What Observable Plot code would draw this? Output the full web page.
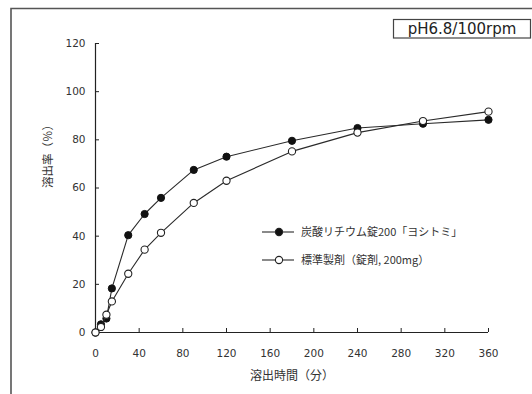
<!DOCTYPE html>
<html>
<head>
<meta charset="utf-8">
<script src="https://cdn.jsdelivr.net/npm/d3@7"></script>
<script src="https://cdn.jsdelivr.net/npm/@observablehq/plot@0.6"></script>
<style>
  html, body { margin: 0; padding: 0; background: #fff; }
</style>
</head>
<body>
<script>
// Dissolution test, pH 6.8 / 100 rpm
const times = [0, 5, 10, 15, 30, 45, 60, 90, 120, 180, 240, 300, 360];
const lithium = [0, 3.4, 5.8, 18.3, 40.4, 49.2, 55.9, 67.5, 73.0, 79.6, 84.9, 86.7, 88.3];
const standard = [0, 2.3, 7.4, 12.9, 24.4, 34.4, 41.4, 53.8, 63.0, 75.2, 83.0, 87.8, 91.7];
const seriesNames = ["炭酸リチウム錠200「ヨシトミ」", "標準製剤（錠剤, 200mg）"];
const xTicks = [0, 40, 80, 120, 160, 200, 240, 280, 320, 360];
const yTicks = [0, 20, 40, 60, 80, 100, 120];
const xLabel = "溶出時間（分）";
const yLabel = "溶出率（％）";
const condition = "pH6.8/100rpm";

const rowsA = times.map((t, i) => ({t, v: lithium[i]}));
const rowsB = times.map((t, i) => ({t, v: standard[i]}));

const cjk = "Noto Sans CJK JP";
const latin = "DejaVu Sans";
const lineColor = "#2a2a2a";

const chart = Plot.plot({
  width: 532,
  height: 394,
  marginLeft: 95,
  marginRight: 44,
  marginTop: 43,
  marginBottom: 62,
  style: {fontFamily: latin, fontSize: "10.5px", color: "#333", background: "#fff"},
  x: {domain: [0, 360]},
  y: {domain: [0, 120]},
  marks: [
    // tick labels
    Plot.axisX({ticks: xTicks, tickSize: 0, tickPadding: 17, label: null, fontFamily: latin, fontSize: 10.5}),
    Plot.axisY({ticks: yTicks, tickSize: 0, tickPadding: 10, label: null, fontFamily: latin, fontSize: 10.5}),
    // inward tick marks
    Plot.axisX({ticks: xTicks, fill: "none", tickSize: 4, dy: -4, label: null, stroke: "#222"}),
    Plot.axisY({ticks: yTicks, fill: "none", tickSize: 4, dx: 4, label: null, stroke: "#222"}),
    // axis lines
    Plot.ruleX([0], {stroke: "#222", strokeWidth: 1.2}),
    Plot.ruleY([0], {stroke: "#222", strokeWidth: 1.2}),
    // axis titles
    Plot.text([xLabel], {frameAnchor: "bottom", dy: 47, fontSize: 12, fontFamily: cjk, fill: "#333"}),
    Plot.text([yLabel], {frameAnchor: "left", dx: -47, rotate: -90, fontSize: 11.5, fontFamily: cjk, fill: "#333"}),
    // series
    Plot.line(rowsA, {x: "t", y: "v", stroke: lineColor, strokeWidth: 1.1}),
    Plot.dot(rowsA, {x: "t", y: "v", r: 3.6, fill: "#111", stroke: "#111", strokeWidth: 1}),
    Plot.line(rowsB, {x: "t", y: "v", stroke: lineColor, strokeWidth: 1.1}),
    Plot.dot(rowsB, {x: "t", y: "v", r: 3.6, fill: "#fff", stroke: "#222", strokeWidth: 1.1})
  ]
});

document.body.appendChild(chart);

const svg = d3.select(chart);

// outer frame (top and left edges)
svg.append("path")
  .attr("d", "M11,394V8.5H532")
  .attr("fill", "none")
  .attr("stroke", "#555")
  .attr("stroke-width", 1.6);

// condition box, top right
const box = svg.append("g");
box.append("rect")
  .attr("x", 393.5).attr("y", 19.5).attr("width", 137).attr("height", 18.5)
  .attr("fill", "#fff").attr("stroke", "#444").attr("stroke-width", 1.2);
box.append("text")
  .attr("x", 462).attr("y", 34)
  .attr("text-anchor", "middle")
  .attr("font-family", latin)
  .attr("font-size", 15)
  .attr("fill", "#222")
  .text(condition);

// legend
const legend = svg.append("g").attr("transform", "translate(262,232)");
const items = [
  {name: seriesNames[0], fill: "#111"},
  {name: seriesNames[1], fill: "#fff"}
];
items.forEach((d, i) => {
  const g = legend.append("g").attr("transform", `translate(0,${i * 28})`);
  g.append("line").attr("x1", 0).attr("x2", 32).attr("y1", 0).attr("y2", 0)
    .attr("stroke", lineColor).attr("stroke-width", 1.1);
  g.append("circle").attr("cx", 17).attr("cy", 0).attr("r", 3.6)
    .attr("fill", d.fill).attr("stroke", "#222").attr("stroke-width", 1.1);
  g.append("text").attr("x", 39).attr("y", 0).attr("dy", "0.35em")
    .attr("text-anchor", "start")
    .attr("font-family", cjk).attr("font-size", 11).attr("fill", "#333")
    .text(d.name);
});
</script>
</body>
</html>
